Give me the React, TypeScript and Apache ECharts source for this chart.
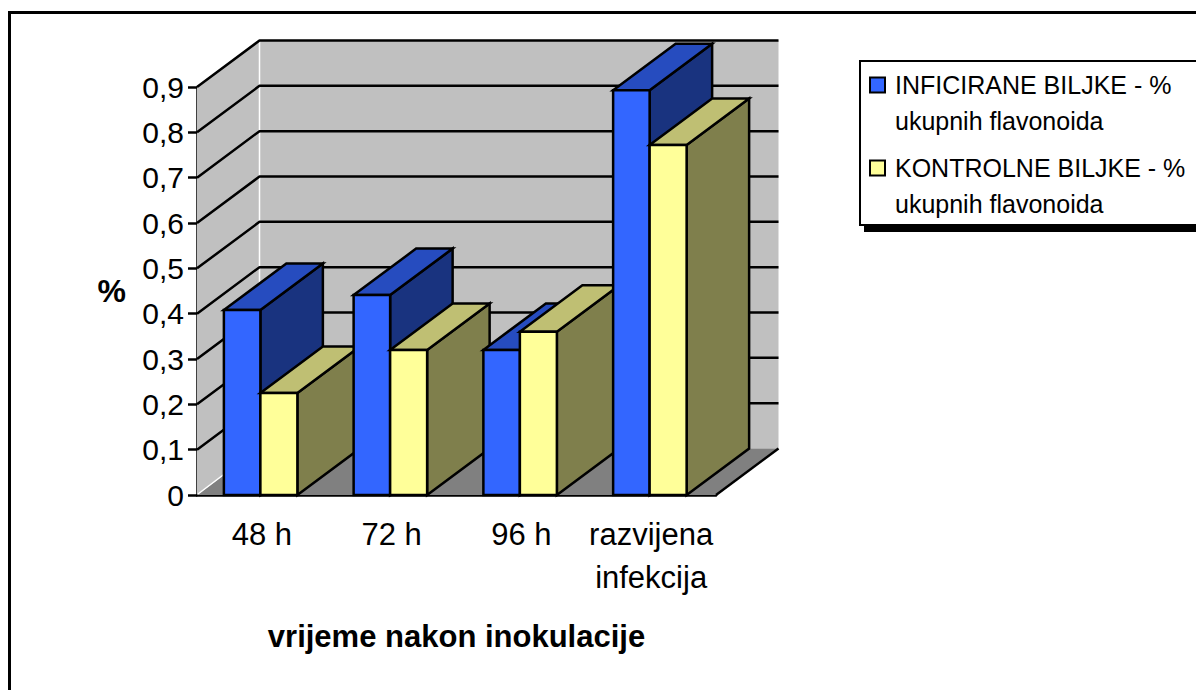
import React, { useEffect, useRef } from "react";
import * as echarts from "echarts";

const categories = ["48 h", "72 h", "96 h", "razvijena\ninfekcija"];
const inficirane = [0.408, 0.441, 0.32, 0.893];
const kontrolne = [0.225, 0.32, 0.36, 0.772];
const yTicks = [0.1, 0.2, 0.3, 0.4, 0.5, 0.6, 0.7, 0.8, 0.9];
const seriesNames = ["INFICIRANE BILJKE - %", "KONTROLNE BILJKE - %"];
const legendSecondLine = "ukupnih flavonoida";
const xTitle = "vrijeme nakon inokulacije";
const yTitle = "%";

const FONT = "'Liberation Sans', Arial, sans-serif";
const DX = 62.5;
const DY = -46.5;
const BLACK = "#000000";
const BLUE = { front: "#3366FF", top: "#264CBF", side: "#19337F" };
const YELLOW = { front: "#FFFF99", top: "#BFBF73", side: "#7F7F4C" };

function poly(points: number[][], fill: string, z2: number, stroke = BLACK, lineWidth = 2.5) {
  return {
    type: "polygon",
    z2,
    shape: { points },
    style: { fill, stroke, lineWidth, lineJoin: "miter" },
    silent: true,
  };
}

function barRenderer(offsetA: number, offsetB: number, colors: typeof BLUE, order: number) {
  return (_params: any, api: any) => {
    const cat = api.value(0);
    const val = api.value(1);
    const [cx, top] = api.coord([cat, val]);
    const [, bottom] = api.coord([cat, 0]);
    const l = cx + offsetA;
    const r = cx + offsetB;
    const z = 10 + cat * 5 + order;
    return {
      type: "group",
      children: [
        poly([[r, top], [r + DX, top + DY], [r + DX, bottom + DY], [r, bottom]], colors.side, z),
        poly([[l, top], [l + DX, top + DY], [r + DX, top + DY], [r, top]], colors.top, z),
        poly([[l, top], [r, top], [r, bottom], [l, bottom]], colors.front, z),
      ],
    };
  };
}

function wallRenderer(params: any) {
  const c = params.coordSys;
  const x0 = c.x;
  const x1 = c.x + c.width;
  const yT = c.y;
  const yB = c.y + c.height;
  const none = "rgba(0,0,0,0)";
  return {
    type: "group",
    children: [
      poly([[x0 + DX, yT + DY], [x1 + DX, yT + DY], [x1 + DX, yB + DY], [x0 + DX, yB + DY]], "#C0C0C0", 1, none, 0),
      poly([[x0, yT], [x0 + DX, yT + DY], [x0 + DX, yB + DY], [x0, yB]], "#C0C0C0", 1, none, 0),
      poly([[x0, yB], [x0 + DX, yB + DY], [x1 + DX, yB + DY], [x1, yB]], "#808080", 1, none, 0),
      { type: "line", z2: 2, shape: { x1: x0 + DX, y1: yT + DY, x2: x0 + DX, y2: yB + DY }, style: { stroke: "#FFFFFF", lineWidth: 1.5 } },
      { type: "line", z2: 2, shape: { x1: x0 + 1, y1: yB - 1, x2: x0 + DX, y2: yB + DY - 1 }, style: { stroke: "#FFFFFF", lineWidth: 1.5 } },
      { type: "line", z2: 3, shape: { x1: x1, y1: yB, x2: x1 + DX, y2: yB + DY }, style: { stroke: BLACK, lineWidth: 2.5 } },
    ],
  };
}

function gridLineRenderer(_params: any, api: any) {
  const [, y] = api.coord([0, api.value(0)]);
  const x0 = _params.coordSys.x;
  const x1 = x0 + _params.coordSys.width;
  return {
    type: "polyline",
    z2: 4,
    shape: { points: [[x0, y], [x0 + DX, y + DY], [x1 + DX, y + DY]] },
    style: { fill: "none", stroke: BLACK, lineWidth: 2.5, lineJoin: "bevel" },
  };
}

function legendEntry(y: number, color: string, name: string) {
  return [
    { type: "rect", shape: { x: 870, y: y - 7.5, width: 15, height: 15 }, style: { fill: color, stroke: BLACK, lineWidth: 2 } },
    { type: "text", x: 895, y, style: { text: name, font: `25px ${FONT}`, fill: BLACK, verticalAlign: "middle" } },
    { type: "text", x: 895, y: y + 36, style: { text: legendSecondLine, font: `25px ${FONT}`, fill: BLACK, verticalAlign: "middle" } },
  ];
}

export default function App() {
  const ref = useRef<HTMLDivElement>(null);
  useEffect(() => {
    const chart = echarts.init(ref.current!, null, { renderer: "svg" });
    chart.setOption({
      animation: false,
      backgroundColor: "#FFFFFF",
      tooltip: { show: false },
      grid: { left: 197, top: 87, width: 519, height: 408 },
      xAxis: {
        type: "category",
        data: categories,
        axisTick: { show: false },
        axisLine: { show: true, lineStyle: { color: BLACK, width: 2.5 } },
        axisLabel: { color: BLACK, fontFamily: FONT, fontSize: 31, margin: 18, lineHeight: 43, interval: 0 },
        name: xTitle,
        nameLocation: "middle",
        nameGap: 126,
        nameTextStyle: { color: BLACK, fontFamily: FONT, fontSize: 31, fontWeight: "bold" },
      },
      yAxis: {
        type: "value",
        min: 0,
        max: 0.9,
        interval: 0.1,
        splitLine: { show: false },
        axisLine: { show: true, lineStyle: { color: BLACK, width: 2.5 } },
        axisTick: { show: true, length: 9, lineStyle: { color: BLACK, width: 2.5 } },
        axisLabel: {
          color: BLACK,
          fontFamily: FONT,
          fontSize: 30,
          margin: 13,
          padding: [5, 0, 0, 0],
          formatter: (v: number) => String(v).replace(".", ","),
        },
        name: yTitle,
        nameLocation: "middle",
        nameRotate: 0,
        nameGap: 71,
        nameTextStyle: { color: BLACK, fontFamily: FONT, fontSize: 32, fontWeight: "bold", padding: [4, 0, 0, 0] },
      },
      series: [
        { type: "custom", name: "walls", z: 1, silent: true, data: [[0, 0]], encode: { x: 0, y: 1 }, renderItem: wallRenderer },
        { type: "custom", name: "gridlines", z: 1, silent: true, data: yTicks.map((t) => [t]), encode: { y: 0 }, renderItem: gridLineRenderer },
        {
          type: "custom",
          name: seriesNames[0],
          z: 2,
          silent: true,
          data: inficirane.map((v, i) => [i, v]),
          encode: { x: 0, y: 1 },
          renderItem: barRenderer(-38, -1.5, BLUE, 0),
        },
        {
          type: "custom",
          name: seriesNames[1],
          z: 2,
          silent: true,
          data: kontrolne.map((v, i) => [i, v]),
          encode: { x: 0, y: 1 },
          renderItem: barRenderer(-1.5, 35.5, YELLOW, 1),
        },
      ],
      graphic: [
        {
          type: "polyline",
          shape: { points: [[9.5, 690], [9.5, 12.5], [1196, 12.5]] },
          style: { fill: "none", stroke: BLACK, lineWidth: 3 },
        },
        { type: "rect", shape: { x: 864, y: 225, width: 340, height: 7 }, style: { fill: BLACK } },
        { type: "rect", shape: { x: 860, y: 61, width: 340, height: 164 }, style: { fill: "#FFFFFF", stroke: BLACK, lineWidth: 2 } },
        ...legendEntry(85, BLUE.front, seriesNames[0]),
        ...legendEntry(168, YELLOW.front, seriesNames[1]),
      ],
    });
    return () => chart.dispose();
  }, []);
  return <div ref={ref} style={{ position: "absolute", left: 0, top: 0, width: 1196, height: 690 }} />;
}
